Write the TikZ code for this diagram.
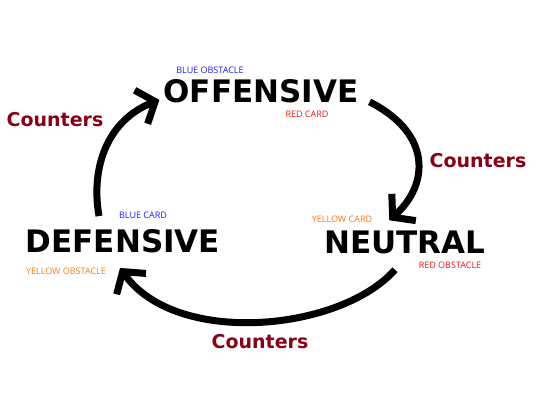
\documentclass[tikz,border=0pt]{standalone}
\usepackage{fontspec}
\setmainfont{DejaVu Sans}
\newfontfamily\labelfont{Open Sans}
\usetikzlibrary{arrows.meta,calc}

\definecolor{counterred}{RGB}{136,0,21}
\definecolor{cardorange}{RGB}{255,120,20}
\definecolor{cardblue}{RGB}{30,30,240}
\definecolor{cardred}{RGB}{245,20,20}

\begin{document}
\begin{tikzpicture}[x=1pt,y=-1pt,line cap=butt,line join=miter,
    stance/.style={inner sep=0pt,font=\fontsize{31}{31}\selectfont\bfseries},
    counter/.style={inner sep=0pt,text=counterred,font=\fontsize{19}{19}\selectfont\bfseries},
    tag/.style={inner sep=0pt,font=\labelfont\fontsize{9}{9}\selectfont},
    cycle/.style={line width=7pt,-{Straight Barb[length=15pt,width=36pt]}}]
  \useasboundingbox (0,0) rectangle (540,405);
  % the three stances
  \node[stance] (off) at (261,91) {OFFENSIVE};
  \node[stance] (neu) at (405,242) {NEUTRAL};
  \node[stance] (def) at (123,241) {DEFENSIVE};
  % cards and obstacles
  \node[tag,text=cardblue] (offob) at (210,70) {BLUE OBSTACLE};
  \node[tag,text=cardred] (offcd) at (307,114) {RED CARD};
  \node[tag,text=cardorange] (neucd) at (342,219) {YELLOW CARD};
  \node[tag,text=cardred] (neuob) at (450,265) {RED OBSTACLE};
  \node[tag,text=cardblue] (defcd) at (143,215) {BLUE CARD};
  \node[tag,text=cardorange] (defob) at (66,271) {YELLOW OBSTACLE};
  % counters
  \node[counter] (cleft) at (55,120) {Counters};
  \node[counter] (cright) at (478,161) {Counters};
  \node[counter] (cbottom) at (260,342) {Counters};
  % arrows
  \draw[cycle] ($(def.north)+(-24,-13)$)
    .. controls ($(def.north)+(-33,-65)$) and ($(def.north)+(-13,-110)$)
    .. ($(off.south west)+(-4,-3)$);
  \draw[cycle] ($(off.south east)+(11,-1)$)
    .. controls ($(off.south east)+(74,31)$) and ($(off.south east)+(70,82)$)
    .. ($(neu.north west)+(65,-10)$);
  \draw[cycle] ($(neu.south)+(-10,16)$)
    .. controls ($(neu.south)+(-65,78)$) and ($(neu.south)+(-229,93)$)
    .. ($(def.south)+(-3,15)$);
\end{tikzpicture}
\end{document}
